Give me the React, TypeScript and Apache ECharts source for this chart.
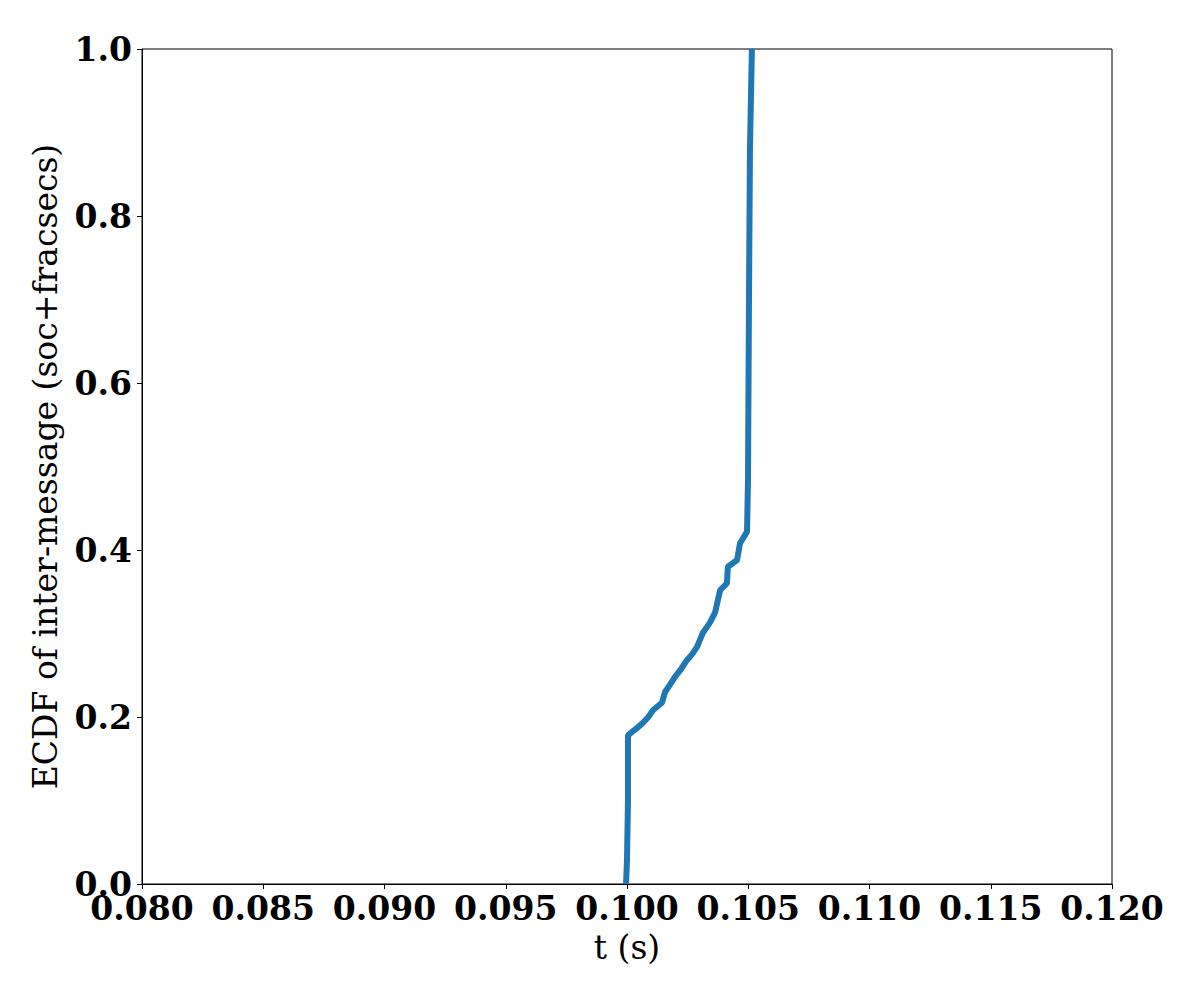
import React, { useEffect, useRef } from "react";
import * as echarts from "echarts";

const xValues = [
  0.09996, 0.1, 0.10004, 0.10004, 0.10016, 0.10042, 0.10066, 0.10088, 0.10107,
  0.10144, 0.10157, 0.10178, 0.10198, 0.10222, 0.10247, 0.10268, 0.10289,
  0.10313, 0.10342, 0.10363, 0.10384, 0.10412, 0.10416, 0.10454, 0.10466,
  0.10495, 0.10499, 0.10503, 0.10507, 0.10515,
];
const yValues = [
  0.0, 0.029, 0.1, 0.178, 0.181, 0.187, 0.193, 0.2, 0.208, 0.217, 0.23, 0.239,
  0.248, 0.257, 0.268, 0.275, 0.284, 0.301, 0.313, 0.325, 0.352, 0.36, 0.38,
  0.388, 0.408, 0.422, 0.484, 0.699, 0.879, 1.0,
];
const xTitle = "t (s)";
const yTitle = "ECDF of inter-message (soc+fracsecs)";

export default function App() {
  const ref = useRef<HTMLDivElement>(null);
  useEffect(() => {
    if (!ref.current) return;
    const chart = echarts.init(ref.current, null, { renderer: "svg" });
    const font = "DejaVu Serif";
    chart.setOption({
      animation: false,
      backgroundColor: "#ffffff",
      grid: {
        left: 142,
        right: 88,
        top: 49,
        bottom: 116,
        show: true,
        borderColor: "#000",
        borderWidth: 1,
        backgroundColor: "transparent",
      },
      xAxis: {
        type: "value",
        min: 0.08,
        max: 0.12,
        interval: 0.005,
        name: xTitle,
        nameLocation: "middle",
        nameGap: 47,
        nameTextStyle: { fontFamily: font, fontSize: 33, color: "#000" },
        axisLine: { show: true, lineStyle: { color: "#000", width: 1 } },
        axisTick: { show: true, length: 5, lineStyle: { color: "#000" } },
        splitLine: { show: false },
        axisLabel: {
          formatter: (v: number) => v.toFixed(3),
          fontFamily: font,
          fontWeight: "bold",
          fontSize: 33,
          color: "#000",
          margin: 8,
          showMinLabel: true,
          showMaxLabel: true,
        },
      },
      yAxis: {
        type: "value",
        min: 0,
        max: 1,
        interval: 0.2,
        name: yTitle,
        nameLocation: "middle",
        nameRotate: 90,
        nameGap: 80,
        nameTextStyle: { fontFamily: font, fontSize: 33, color: "#000" },
        axisLine: { show: true, lineStyle: { color: "#000", width: 1 } },
        axisTick: { show: true, length: 5, lineStyle: { color: "#000" } },
        splitLine: { show: false },
        axisLabel: {
          formatter: (v: number) => v.toFixed(1),
          fontFamily: font,
          fontWeight: "bold",
          fontSize: 33,
          color: "#000",
          margin: 10,
        },
      },
      series: [
        {
          type: "line",
          data: xValues.map((x, i) => [x, yValues[i]]),
          showSymbol: false,
          lineStyle: { color: "#1f77b4", width: 6 },
          itemStyle: { color: "#1f77b4" },
        },
      ],
    });
    return () => chart.dispose();
  }, []);
  return (
    <div
      ref={ref}
      style={{ position: "absolute", left: 0, top: 0, width: 1200, height: 1000 }}
    />
  );
}
